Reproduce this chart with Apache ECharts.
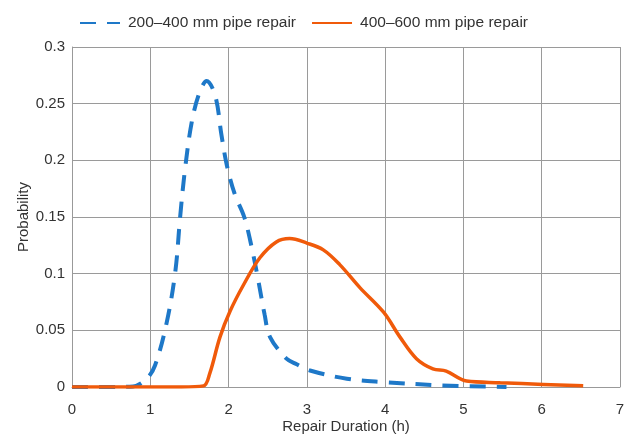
<!DOCTYPE html>
<html>
<head>
<meta charset="utf-8">
<script src="https://cdn.jsdelivr.net/npm/echarts@6/dist/echarts.min.js"></script>
<style>
html,body{margin:0;padding:0;background:#fff;}
#chart{width:629px;height:439px;}
</style>
</head>
<body>
<div id="chart"></div>
<script>
const seriesNames = ['200–400 mm pipe repair', '400–600 mm pipe repair'];
const xTicks = [0, 1, 2, 3, 4, 5, 6, 7];
const yTicks = [0, 0.05, 0.1, 0.15, 0.2, 0.25, 0.3];

const small = [
  [0, 0], [0.5, 0], [0.78, 0.0005], [0.95, 0.007], [1.06, 0.019], [1.21, 0.057],
  [1.32, 0.102], [1.38, 0.149], [1.44, 0.19], [1.53, 0.234], [1.63, 0.26],
  [1.72, 0.27], [1.83, 0.257], [1.91, 0.222], [1.98, 0.195], [2.08, 0.170],
  [2.2, 0.150], [2.29, 0.125], [2.38, 0.094], [2.46, 0.064], [2.53, 0.044],
  [2.74, 0.025], [2.87, 0.020], [3.04, 0.0146], [3.51, 0.0073], [3.97, 0.0044],
  [4.7, 0.0015], [5.55, 0]
];

const large = [
  [0, 0], [0.8, 0], [1.4, 0], [1.68, 0.001], [1.76, 0.012], [1.89, 0.044],
  [2.02, 0.067], [2.19, 0.09], [2.4, 0.114], [2.61, 0.128], [2.78, 0.131],
  [3.0, 0.127], [3.21, 0.121], [3.42, 0.108], [3.68, 0.0875], [3.98, 0.066],
  [4.19, 0.044], [4.4, 0.025], [4.61, 0.016], [4.78, 0.014], [5.04, 0.0052],
  [5.47, 0.0038], [6.02, 0.0023], [6.53, 0.001]
];

const FONT = '"Liberation Sans", Arial, sans-serif';
const chart = echarts.init(document.getElementById('chart'));
chart.setOption({
  animation: false,
  backgroundColor: '#fff',
  textStyle: { fontFamily: FONT },
  legend: {
    top: 10,
    left: 74,
    itemWidth: 40,
    itemHeight: 14,
    itemGap: 15,
    itemStyle: { opacity: 0 },
    textStyle: { fontSize: 15.5, color: '#333', fontFamily: FONT, padding: [0, 0, 0, 3] },
    data: seriesNames
  },
  grid: { left: 72, right: 9, top: 47, bottom: 49 },
  xAxis: {
    type: 'value',
    min: xTicks[0], max: xTicks[xTicks.length - 1], interval: 1,
    name: 'Repair Duration (h)',
    nameLocation: 'middle',
    nameGap: 32,
    nameMoveOverlap: false,
    nameTextStyle: { fontSize: 15, color: '#333', fontFamily: FONT },
    axisLine: { lineStyle: { color: '#999' } },
    axisTick: { show: false },
    axisLabel: { fontSize: 15, color: '#333', margin: 15, fontFamily: FONT },
    splitLine: { show: true, lineStyle: { color: '#9a9a9a', width: 1 } }
  },
  yAxis: {
    type: 'value',
    min: yTicks[0], max: yTicks[yTicks.length - 1], interval: 0.05,
    name: 'Probability',
    nameLocation: 'middle',
    nameGap: 41,
    nameMoveOverlap: false,
    nameTextStyle: { fontSize: 15, color: '#333', fontFamily: FONT },
    axisLine: { show: true, lineStyle: { color: '#999' } },
    axisTick: { show: false },
    axisLabel: { fontSize: 15, color: '#333', margin: 7, fontFamily: FONT },
    splitLine: { show: true, lineStyle: { color: '#9a9a9a', width: 1 } }
  },
  series: [
    {
      name: seriesNames[0],
      type: 'line',
      data: small,
      smooth: 0.35,
      symbol: 'none',
      z: 3,
      itemStyle: { color: '#1E78C8' },
      lineStyle: { color: '#1E78C8', width: 4, type: [16, 11] }
    },
    {
      name: seriesNames[1],
      type: 'line',
      data: large,
      smooth: 0.35,
      symbol: 'none',
      z: 4,
      itemStyle: { color: '#F05A0A' },
      lineStyle: { color: '#F05A0A', width: 3.5 }
    }
  ]
});
</script>
</body>
</html>
